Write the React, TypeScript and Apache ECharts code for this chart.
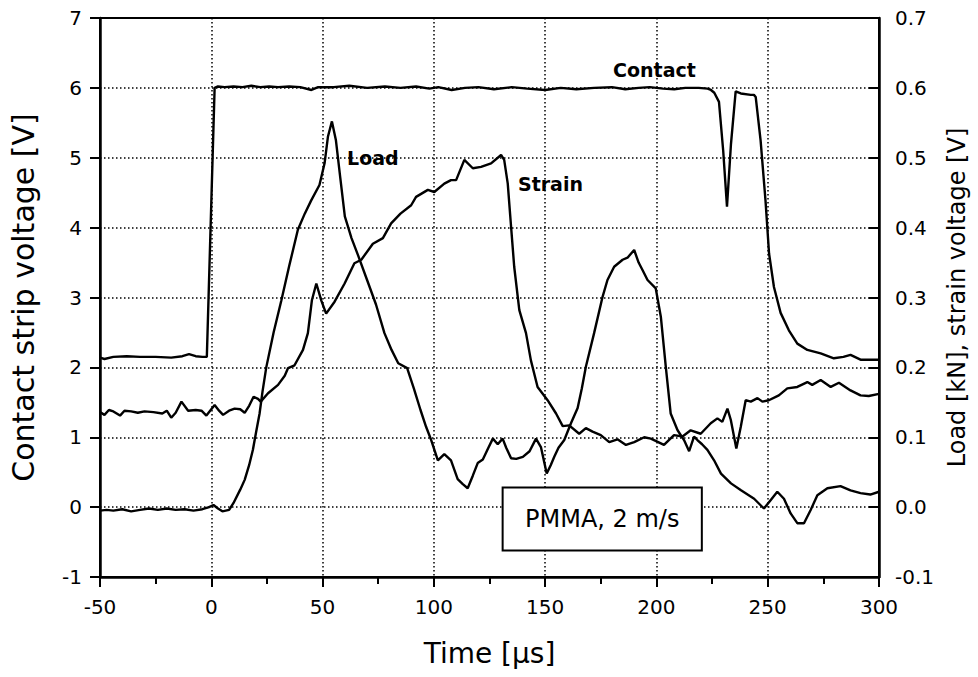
import React, { useEffect, useRef } from "react";
import * as echarts from "echarts";

// Contact strip voltage [V] (left axis)
const contactTime = [
  -50, -48, -44, -38, -32, -25, -18, -13, -10, -7, -4, -2,
  1.5, 3, 6, 10, 14, 18, 22, 26, 30, 35, 40, 45, 48, 55, 62, 70, 78, 85, 92, 98,
  102, 108, 114, 120, 127, 135, 142, 150, 157, 164, 172, 180, 186, 192, 197, 203,
  208, 213, 219, 223, 224.5, 226, 228.1, 230, 231.7, 233.5, 235.6, 237.9, 242.4, 243.8,
  244.6, 246.8, 249, 250.6, 252.8, 255.8, 259.5, 263.3, 267.8, 273.8, 279.7, 284,
  287.2, 291.7, 296, 300,
];
const contactVolt = [
  2.14, 2.12, 2.15, 2.16, 2.15, 2.15, 2.14, 2.16, 2.19, 2.16, 2.15, 2.15,
  6.0, 6.02, 6.01, 6.02, 6.01, 6.03, 6.01, 6.02, 6.01, 6.02, 6.01, 5.97, 6.01, 6.01, 6.03, 6.0, 6.02, 6.0, 6.02, 5.99,
  6.01, 5.97, 6.0, 6.01, 5.98, 6.01, 5.99, 5.97, 6.0, 5.98, 6.0, 6.01, 5.98, 6.0, 6.01, 5.99,
  5.98, 6.0, 6.0, 5.99, 5.97, 5.93, 5.8, 5.1, 4.3, 5.2, 5.95, 5.92, 5.9, 5.9,
  5.87, 5.25, 4.39, 3.63, 3.15, 2.78, 2.53, 2.34, 2.25, 2.2, 2.13, 2.15,
  2.18, 2.11, 2.11, 2.11,
];

// Load [kN] (right axis)
const loadTime = [
  -50, -47, -44, -40, -36, -32, -28, -24, -20, -16, -12, -8, -4, -1, 1, 3, 5, 8,
  10, 13, 15, 17, 18.7, 20, 21.7, 23, 24.7, 28, 31.5, 35, 38.9, 42, 44.9, 48.6,
  50.9, 52.4, 54.2, 56, 58, 60, 63, 66, 70, 74, 77.8, 81, 84, 88, 91, 94, 96.5,
  98.8, 101.8, 104.7, 107.7, 110.7, 113, 115.2, 117.5, 119.7, 122, 124.5, 126.5,
  128.7, 130.9, 132.5, 134.7, 137, 140, 143, 145.9, 148.1, 150.7, 152.5, 154.1,
  156, 158.6, 161.6, 164.6, 166.5, 168.3, 172, 175.8, 178, 181, 184.8, 187, 190,
  192, 193.8, 196, 199.7, 202, 204.2, 206.4, 209.5, 212.4, 214.7, 216.9, 218.4,
  220.5, 222.9, 225.9, 229, 233.5, 238, 243.9, 248.3, 251.3, 254.3, 257.3, 260.3,
  263.3, 266.3, 269.3, 272.3, 276.8, 282.7, 287.2, 291.7, 296.1, 300,
];
const loadKN = [
  -0.005, -0.004, -0.005, -0.003, -0.006, -0.004, -0.002, -0.004, -0.002, -0.004, -0.003, -0.005, -0.003, 0.0, 0.003, -0.002, -0.006, -0.004,
  0.006, 0.025, 0.039, 0.06, 0.082, 0.105, 0.134, 0.165, 0.2, 0.25, 0.296, 0.345, 0.397, 0.42, 0.439, 0.461,
  0.492, 0.53, 0.552, 0.525, 0.47, 0.416, 0.385, 0.36, 0.325, 0.29, 0.249, 0.225, 0.206, 0.199, 0.17, 0.139, 0.115,
  0.096, 0.067, 0.076, 0.067, 0.04, 0.033, 0.027, 0.045, 0.063, 0.068, 0.085, 0.098,
  0.09, 0.098, 0.085, 0.07, 0.069, 0.072, 0.08, 0.098, 0.086, 0.048, 0.06, 0.072,
  0.085, 0.096, 0.12, 0.142, 0.17, 0.201, 0.249, 0.301, 0.325, 0.344, 0.354, 0.357, 0.368,
  0.35, 0.339, 0.325, 0.313, 0.272, 0.201, 0.134, 0.11, 0.096, 0.08, 0.101, 0.096,
  0.09, 0.082, 0.067, 0.048, 0.034, 0.024, 0.012, -0.002, 0.01, 0.022, 0.012, -0.009,
  -0.023, -0.023, -0.004, 0.017, 0.027, 0.03, 0.024, 0.02, 0.018, 0.022,
];

// Strain voltage [V] (right axis)
const strainTime = [
  -50, -48, -46, -44, -41, -39, -36, -33, -30, -26, -22, -20, -18, -16, -13.4, -10.4,
  -7, -4.4, -2.2, 1.5, 3.5, 5.3, 8, 10.5, 13, 15, 17, 19, 21, 22.2, 25.5, 30, 33,
  34.5, 37.4, 41.2, 43.4, 45.2, 47.2, 49.4, 51.6, 55.4, 59.9, 64.3, 67.4, 72.6,
  77.1, 80.8, 85, 89.8, 92, 97.3, 100.2, 104.7, 107.7, 110, 113.7, 117.5, 121.2,
  125.7, 130.2, 131.6, 133.2, 134.7, 136.1, 138.4, 141.4, 143.6, 146.6, 151.1,
  154.9, 157.9, 160.8, 165.3, 168.3, 171.3, 175, 178.8, 182.5, 186.3, 190, 194.5,
  197.5, 203.4, 207.9, 211.7, 215.4, 219.9, 224.4, 227.4, 229.6, 231.9, 233.4,
  235.9, 237.9, 240.1, 242.4, 245.4, 247.6, 250.5, 255, 258.8, 263.3, 267.8, 270,
  273.8, 278.3, 282, 287.2, 291.7, 295.4, 300,
];
const strainV = [
  0.136, 0.132, 0.139, 0.137, 0.131, 0.138, 0.137, 0.135, 0.137, 0.136, 0.134, 0.138, 0.128, 0.135, 0.151, 0.138,
  0.139, 0.138, 0.131, 0.146, 0.138, 0.132, 0.138, 0.141, 0.14, 0.135, 0.145, 0.158, 0.155, 0.151, 0.163, 0.175, 0.188,
  0.199, 0.203, 0.225, 0.249, 0.296, 0.32, 0.296, 0.277, 0.294, 0.32, 0.349, 0.354, 0.377,
  0.385, 0.406, 0.42, 0.432, 0.444, 0.454, 0.451, 0.463, 0.468, 0.468, 0.497, 0.485, 0.487,
  0.492, 0.504, 0.497, 0.463, 0.401, 0.344, 0.282, 0.249, 0.21, 0.172, 0.153,
  0.134, 0.116, 0.117, 0.105, 0.113, 0.108, 0.103, 0.093, 0.097, 0.089, 0.093, 0.1,
  0.098, 0.089, 0.103, 0.101, 0.11, 0.105, 0.12, 0.127, 0.122, 0.141, 0.125,
  0.084, 0.115, 0.153, 0.151, 0.156, 0.151, 0.153, 0.16, 0.17, 0.172, 0.179, 0.175,
  0.182, 0.172, 0.178, 0.167, 0.16, 0.159, 0.162,
];

const xTicks = { min: -50, max: 300, step: 50 };
const leftTicks = { min: -1, max: 7, step: 1 };
const rightTicks = { min: -0.1, max: 0.7, step: 0.1 };

const FONT = "DejaVu Sans";

export default function App() {
  const ref = useRef<HTMLDivElement>(null);
  useEffect(() => {
    const chart = echarts.init(ref.current!, null, { renderer: "svg" });
    const pair = (t: number[], v: number[]) => t.map((x, i) => [x, v[i]]);
    const lineSeries = (name: string, data: number[][], yAxisIndex: number) => ({
      name,
      type: "line",
      data,
      yAxisIndex,
      showSymbol: false,
      symbol: "none",
      silent: true,
      lineStyle: { color: "#000", width: 2.4 },
    });
    const dotted = { color: "#000", type: [1.5, 2.5], width: 1.5 };
    chart.setOption({
      animation: false,
      backgroundColor: "#fff",
      grid: {
        left: 99, right: 99, top: 18, bottom: 100,
        show: true, borderColor: "#000", borderWidth: 2, backgroundColor: "transparent",
      },
      xAxis: {
        type: "value", min: xTicks.min, max: xTicks.max, interval: xTicks.step,
        name: "Time [μs]", nameLocation: "middle", nameGap: 62,
        nameTextStyle: { fontFamily: FONT, fontSize: 28, color: "#000" },
        axisLine: { onZero: false, lineStyle: { color: "#000", width: 2.5 } },
        axisTick: { length: 10, lineStyle: { color: "#000", width: 2 } },
        minorTick: { show: true, splitNumber: 2, length: 7, lineStyle: { color: "#000", width: 2 } },
        axisLabel: { margin: 20, fontFamily: FONT, fontSize: 20, color: "#000" },
        splitLine: { show: true, lineStyle: dotted },
      },
      yAxis: [
        {
          type: "value", min: leftTicks.min, max: leftTicks.max, interval: leftTicks.step, position: "left",
          name: "Contact strip voltage [V]", nameLocation: "middle", nameGap: 62,
          nameTextStyle: { fontFamily: FONT, fontSize: 30, color: "#000" },
          axisLine: { show: true, onZero: false, lineStyle: { color: "#000", width: 2.5 } },
          axisTick: { show: true, length: 10, lineStyle: { color: "#000", width: 2 } },
          axisLabel: { margin: 18, fontFamily: FONT, fontSize: 20, color: "#000" },
          splitLine: { show: true, lineStyle: dotted },
        },
        {
          type: "value", min: rightTicks.min, max: rightTicks.max, interval: rightTicks.step, position: "right",
          name: "Load [kN], strain voltage [V]", nameLocation: "middle", nameGap: 66, nameRotate: 90,
          nameTextStyle: { fontFamily: FONT, fontSize: 24, color: "#000" },
          axisLine: { show: true, onZero: false, lineStyle: { color: "#000", width: 2.5 } },
          axisTick: { show: true, inside: true, length: 10, lineStyle: { color: "#000", width: 2 } },
          axisLabel: {
            margin: 16, fontFamily: FONT, fontSize: 20, color: "#000",
            formatter: (v: number) => v.toFixed(1),
          },
          splitLine: { show: false },
        },
      ],
      series: [
        lineSeries("Contact", pair(contactTime, contactVolt), 0),
        lineSeries("Load", pair(loadTime, loadKN), 1),
        lineSeries("Strain", pair(strainTime, strainV), 1),
      ],
    });

    const px = (t: number, v: number) =>
      chart.convertToPixel({ xAxisIndex: 0, yAxisIndex: 0 }, [t, v]) as number[];
    const curveLabels = [
      { text: "Contact", at: [199.1, 6.26] },
      { text: "Load", at: [72.6, 5.0] },
      { text: "Strain", at: [152.4, 4.62] },
    ];
    const boxTL = px(130.9, 0.28);
    const boxBR = px(220.4, -0.62);
    const graphic: any[] = curveLabels.map((l) => {
      const p = px(l.at[0], l.at[1]);
      return {
        type: "text", x: p[0], y: p[1], silent: true,
        style: {
          text: l.text, fontFamily: FONT, fontSize: 19, fontWeight: "bold", fill: "#000",
          textAlign: "center", textVerticalAlign: "middle",
        },
      };
    });
    graphic.push({
      type: "rect", silent: true,
      shape: { x: boxTL[0], y: boxTL[1], width: boxBR[0] - boxTL[0], height: boxBR[1] - boxTL[1] },
      style: { fill: "#fff", stroke: "#000", lineWidth: 2 },
      z: 100,
    });
    graphic.push({
      type: "text", silent: true, z: 101,
      x: (boxTL[0] + boxBR[0]) / 2, y: (boxTL[1] + boxBR[1]) / 2,
      style: {
        text: "PMMA, 2 m/s", fontFamily: FONT, fontSize: 24, fill: "#000",
        textAlign: "center", textVerticalAlign: "middle",
      },
    });
    chart.setOption({ graphic });

    return () => chart.dispose();
  }, []);
  return (
    <div
      ref={ref}
      style={{ position: "fixed", left: 0, top: 0, width: 978, height: 677, background: "#fff" }}
    />
  );
}
